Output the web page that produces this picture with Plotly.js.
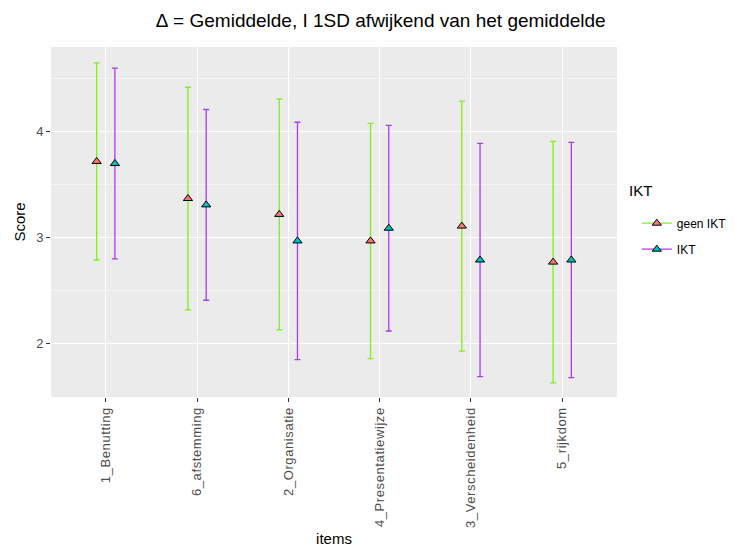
<!DOCTYPE html>
<html>
<head>
<meta charset="utf-8">
<script src="https://cdn.plot.ly/plotly-3.0.1.min.js"></script>
<style>
html,body{margin:0;padding:0;background:#fff;}
#chart{width:744px;height:553px;}
#chart .xtick text{letter-spacing:0.6px;}
</style>
</head>
<body>
<div id="chart"></div>
<script>
// categories in axis order
const categories = ["1_Benutting", "6_afstemming", "2_Organisatie", "4_Presentatiewijze", "3_Verscheidenheid", "5_rijkdom"];
const seriesNames = ["geen IKT", "IKT"];
const legendTitle = "IKT";
// means and standard deviations
const geenIKT_mean = [3.72, 3.37, 3.22, 2.97, 3.11, 2.77];
const geenIKT_sd   = [0.93, 1.05, 1.09, 1.11, 1.18, 1.14];
const IKT_mean     = [3.70, 3.31, 2.97, 3.09, 2.79, 2.79];
const IKT_sd       = [0.90, 0.90, 1.12, 0.97, 1.10, 1.11];

const dodge = 0.1;
const idx = categories.map((c, i) => i + 1);

function series(name, means, sds, shift, lineColor, fillColor) {
  return {
    type: "scatter", mode: "markers", name: name, showlegend: false,
    x: idx.map(v => v + shift), y: means,
    error_y: {type: "data", array: sds, visible: true, color: lineColor, thickness: 1.3, width: 3},
    marker: {symbol: "triangle-up", size: 8, color: fillColor, line: {color: "#000", width: 1}},
    hovertemplate: "%{text}: %{y}<extra>" + name + "</extra>", text: categories
  };
}
function legendKey(name, lineColor, fillColor, grp) {
  return {
    type: "scatter", mode: "lines+markers", name: name, legendgroup: grp,
    x: [null], y: [null],
    line: {color: lineColor, width: 1.3},
    marker: {symbol: "triangle-up", size: 8, color: fillColor, line: {color: "#000", width: 1}}
  };
}
const GREEN = "#7FF01E", PURPLE = "#A83CF0", RED = "#F8766D", TEAL = "#00BFC4";
const data = [
  series(seriesNames[0], geenIKT_mean, geenIKT_sd, -dodge, GREEN, RED),
  series(seriesNames[1], IKT_mean, IKT_sd, dodge, PURPLE, TEAL),
  legendKey(seriesNames[0], GREEN, RED, "a"),
  legendKey(seriesNames[1], PURPLE, TEAL, "b")
];

const layout = {
  width: 744, height: 553,
  margin: {l: 51, r: 124, t: 47, b: 156},
  paper_bgcolor: "#fff", plot_bgcolor: "#EBEBEB",
  font: {family: "Liberation Sans, Arial, sans-serif", color: "#000"},
  title: {text: "\u2206 = Gemiddelde, I 1SD afwijkend van het gemiddelde", font: {size: 19, color: "#000"},
          x: 0.512, xref: "container", xanchor: "center", y: 0.963, yref: "container", yanchor: "middle"},
  xaxis: {
    range: [0.4, 6.6], tickmode: "array", tickvals: idx, ticktext: categories, tickangle: -90,
    showgrid: true, gridcolor: "#fff", gridwidth: 1.1, zeroline: false, showline: false,
    ticks: "outside", ticklen: 4, tickcolor: "#333", tickwidth: 1,
    tickfont: {size: 13, color: "#4D4D4D"},
    title: {text: "items", font: {size: 15, color: "#000"}, standoff: 16}
  },
  yaxis: {
    range: [1.497, 4.80], tickmode: "linear", tick0: 2, dtick: 1,
    showgrid: true, gridcolor: "#fff", gridwidth: 1.1, zeroline: false, showline: false,
    minor: {tick0: 1.5, dtick: 1, showgrid: true, gridcolor: "#fff", gridwidth: 0.5, ticks: ""},
    ticks: "outside", ticklen: 4, tickcolor: "#333", tickwidth: 1,
    tickfont: {size: 13, color: "#4D4D4D"},
    title: {text: "Score", font: {size: 15, color: "#000"}, standoff: 6}
  },
  legend: {
    x: 1.035, xanchor: "left", y: 0.538, yanchor: "top", bgcolor: "rgba(0,0,0,0)",
    font: {size: 12, color: "#000"}, traceorder: "grouped", tracegroupgap: 7
  },
  annotations: [{
    text: legendTitle, xref: "paper", yref: "paper", x: 1.017, y: 0.59,
    xanchor: "left", yanchor: "middle", showarrow: false, font: {size: 15, color: "#000"}
  }],
  showlegend: true
};
Plotly.newPlot("chart", data, layout, {displayModeBar: false, staticPlot: true});
</script>
</body>
</html>
